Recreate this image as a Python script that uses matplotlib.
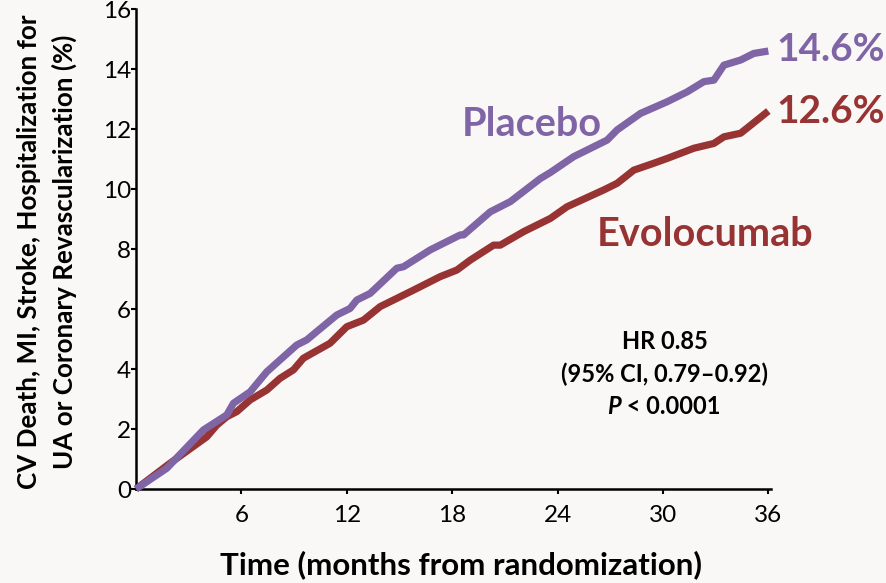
import matplotlib
matplotlib.use("Agg")
import matplotlib.pyplot as plt

plt.rcParams['font.family'] = ['Lato', 'DejaVu Sans']

# Kaplan-Meier style cumulative event rates (%), by months from randomization
placebo_months = [0, 1.75, 3.84, 5.17, 5.55, 6.5, 7.45, 9.15, 9.72, 11.43, 12.19,
                  12.57, 13.33, 14.85, 15.23, 16.75, 18.46, 18.65, 20.17, 21.31,
                  23.02, 23.59, 24.92, 26.82, 27.39, 28.72, 30.24, 31.38, 32.33,
                  32.9, 33.47, 34.42, 35.17, 36.0]
placebo_pct = [0, 0.69, 1.97, 2.47, 2.86, 3.24, 3.91, 4.8, 4.97, 5.8, 6.02,
               6.3, 6.52, 7.36, 7.41, 7.97, 8.47, 8.47, 9.24, 9.58,
               10.35, 10.55, 11.08, 11.63, 11.97, 12.52, 12.91, 13.24, 13.58,
               13.63, 14.13, 14.3, 14.52, 14.6]

evolocumab_months = [0, 1.94, 4.03, 4.6, 5.17, 5.74, 6.5, 7.45, 8.2, 8.96, 9.53,
                     11.05, 12.0, 12.95, 13.9, 15.8, 17.32, 18.27, 19.03, 20.36,
                     20.74, 22.07, 23.59, 24.54, 26.63, 27.39, 28.34, 29.48, 30.24,
                     31.76, 32.9, 33.47, 34.42, 35.0, 36.0]
evolocumab_pct = [0, 0.86, 1.74, 2.13, 2.41, 2.58, 2.97, 3.3, 3.69, 3.97, 4.36,
                  4.86, 5.41, 5.63, 6.08, 6.63, 7.08, 7.3, 7.63, 8.13,
                  8.13, 8.58, 9.02, 9.41, 9.97, 10.19, 10.63, 10.86, 11.02,
                  11.36, 11.52, 11.74, 11.86, 12.13, 12.6]

x_ticks = [6, 12, 18, 24, 30, 36]
y_ticks = [0, 2, 4, 6, 8, 10, 12, 14, 16]

purple = '#7f64a6'
red = '#973433'
bg = '#f9f8f7'

fig = plt.figure(figsize=(8.87, 5.83), dpi=100, facecolor=bg)
ax = fig.add_axes([0.1533, 0.1612, 0.8692 - 0.1533, 0.8233])
ax.set_facecolor(bg)

ax.plot(placebo_months, placebo_pct, color=purple, lw=5.2, solid_capstyle='butt',
        solid_joinstyle='round', clip_on=False, zorder=3)
ax.plot(evolocumab_months, evolocumab_pct, color=red, lw=5.2, solid_capstyle='butt',
        solid_joinstyle='round', clip_on=False, zorder=2)

ax.set_xlim(0, 36.15)
ax.set_ylim(0, 16)
ax.set_xticks(x_ticks)
ax.set_yticks(y_ticks)
ax.set_xticklabels([str(t) for t in x_ticks])
ax.set_yticklabels([str(t) for t in y_ticks])

for side in ('top', 'right'):
    ax.spines[side].set_visible(False)
for side in ('left', 'bottom'):
    ax.spines[side].set_linewidth(1.8)
    ax.spines[side].set_color('black')

ax.tick_params(axis='both', direction='out', length=3.5, width=1.5, labelsize=17.5,
               colors='black')
ax.tick_params(axis='y', pad=0)
ax.tick_params(axis='x', pad=8)

ax.set_xlabel('Time (months from randomization)', fontsize=22.5, fontweight='bold')
ax.xaxis.set_label_coords(0.512, -0.128)
fig.text(0.053, 0.568,
         'CV Death, MI, Stroke, Hospitalization for\nUA or Coronary Revascularization (%)',
         rotation=90, ha='center', va='center', fontsize=18.7, fontweight='bold',
         linespacing=1.5)

# Series names
fig.text(0.600, 0.7856, 'Placebo', color=purple, fontsize=28.5, fontweight='bold',
         ha='center', va='center')
fig.text(0.795, 0.5986, 'Evolocumab', color=red, fontsize=28.5, fontweight='bold',
         ha='center', va='center')

# End-of-follow-up rates
ax.annotate(f'{placebo_pct[-1]:.1f}%', xy=(placebo_months[-1], placebo_pct[-1]),
            xytext=(6, 1), textcoords='offset points', color=purple, fontsize=28,
            fontweight='bold', ha='left', va='center', annotation_clip=False)
ax.annotate(f'{evolocumab_pct[-1]:.1f}%', xy=(evolocumab_months[-1], evolocumab_pct[-1]),
            xytext=(6, 0), textcoords='offset points', color=red, fontsize=28,
            fontweight='bold', ha='left', va='center', annotation_clip=False)

# Hazard ratio summary
fs_hr = 17
fig.text(0.7497, 0.4134, 'HR 0.85', fontsize=fs_hr, fontweight='bold',
         ha='center', va='center')
fig.text(0.7497, 0.3585, '(95% CI, 0.79\u20130.92)', fontsize=fs_hr, fontweight='bold',
         ha='center', va='center')
p_txt = fig.text(607 / 887, 0.3036, 'P', fontsize=fs_hr, fontweight='bold',
                 fontstyle='italic', ha='left', va='center')
ax.annotate(' < 0.0001', xy=(1, 0), xycoords=p_txt, fontsize=fs_hr,
            fontweight='bold', ha='left', va='bottom', annotation_clip=False)

fig.savefig('out.png', dpi=100, facecolor=bg)
